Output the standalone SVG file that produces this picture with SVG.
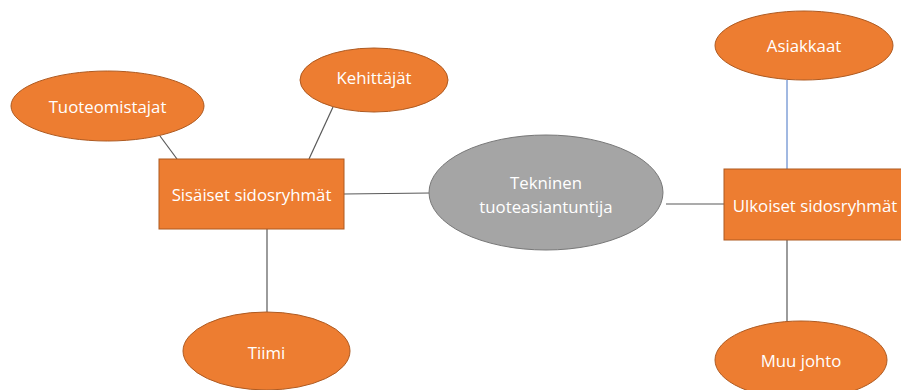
<svg xmlns="http://www.w3.org/2000/svg" width="901" height="390" viewBox="0 0 901 390">
<style>
.o{fill:#ED7D31;stroke:#AE5A21;stroke-width:1}
.g{fill:#A5A5A5;stroke:#787878;stroke-width:1}
.t{fill:#fff;font-family:"Open Sans","Liberation Sans",sans-serif;font-size:16.8px;text-anchor:middle;dominant-baseline:central}
.c{stroke:#595959;stroke-width:1.2;fill:none}
</style>
<rect width="901" height="390" fill="#fff"/>
<g id="connectors">
<line class="c" x1="160" y1="136" x2="177" y2="159"/>
<line class="c" x1="333" y1="107" x2="309" y2="159"/>
<line class="c" x1="344" y1="194" x2="430" y2="193"/>
<line class="c" x1="267" y1="229" x2="267" y2="312"/>
<line class="c" x1="666" y1="204" x2="724" y2="204"/>
<line x1="787" y1="80" x2="787" y2="169" stroke="#4472C4" stroke-width="1"/>
<line class="c" x1="787" y1="240" x2="787" y2="321"/>
</g>
<g id="tuoteomistajat"><ellipse class="o" cx="107.5" cy="106" rx="96.5" ry="35"/><text class="t" x="107.5" y="106">Tuoteomistajat</text></g>
<g id="kehittajat"><ellipse class="o" cx="374" cy="80" rx="74" ry="32"/><text class="t" x="374" y="77">Kehittäjät</text></g>
<g id="sisaiset"><rect class="o" x="159" y="159" width="185" height="70"/><text class="t" x="251.5" y="194">Sisäiset sidosryhmät</text></g>
<g id="tiimi"><ellipse class="o" cx="266.5" cy="351" rx="83.5" ry="39"/><text class="t" x="266.5" y="352">Tiimi</text></g>
<g id="tekninen"><ellipse class="g" cx="546" cy="192.5" rx="117" ry="57.5"/><text class="t" x="546" y="182">Tekninen</text><text class="t" x="546" y="206">tuoteasiantuntija</text></g>
<g id="ulkoiset"><rect class="o" x="724" y="169" width="185" height="71"/><text class="t" x="815" y="205">Ulkoiset sidosryhmät</text></g>
<g id="asiakkaat"><ellipse class="o" cx="804" cy="45.5" rx="89" ry="34.5"/><text class="t" x="804" y="45">Asiakkaat</text></g>
<g id="muujohto"><ellipse class="o" cx="801" cy="360" rx="86" ry="39"/><text class="t" x="801" y="360">Muu johto</text></g>
</svg>
